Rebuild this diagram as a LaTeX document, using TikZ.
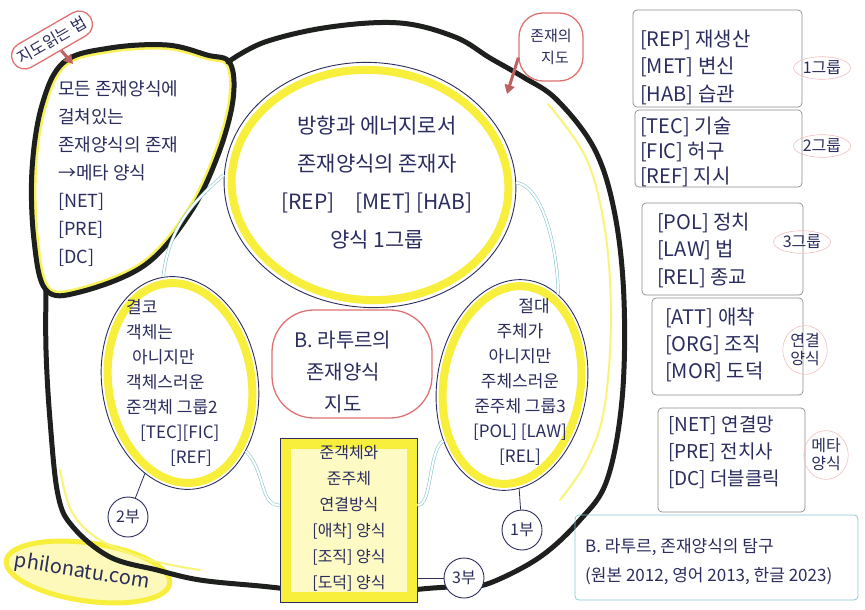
\documentclass[tikz,border=0pt]{standalone}
\usepackage{fontspec}
\setmainfont{Noto Sans CJK KR}
\usetikzlibrary{shapes.geometric,arrows.meta,calc}
\definecolor{ink}{HTML}{2B2D5E}
\definecolor{loopc}{HTML}{1D201D}
\definecolor{hl}{HTML}{F7EF3C}
\definecolor{redl}{HTML}{E07272}
\definecolor{cyanl}{HTML}{8CC8D2}
\definecolor{boxl}{HTML}{8C8C8C}
\newcommand{\fs}[2]{\fontsize{#1}{#2}\selectfont}
\begin{document}
\begin{tikzpicture}[x=1pt,y=-1pt,
  loopline/.style={draw=loopc, line width=5pt, line cap=round, line join=round},
  ellout/.style={ellipse, draw=ink, line width=0.9pt, inner sep=0pt},
  ellhl/.style={ellipse, draw=hl, line width=8pt, inner sep=0pt},
  txt/.style={text=ink, inner sep=0pt},
  redshape/.style={draw=redl, line width=1.3pt, text=ink},
  redarrow/.style={draw=redl!85!black, line width=3pt, -{Triangle[length=9pt,width=10pt]}},
  cyanlink/.style={draw=cyanl, line width=0.6pt, double=white, double distance=2pt},
  thinlink/.style={draw=ink, line width=0.8pt},
  partc/.style={circle, draw=ink, line width=0.9pt, fill=white, minimum size=40pt, inner sep=0pt, text=ink, font=\fs{16}{18}},
  pbox/.style={rectangle, draw=boxl, line width=0.7pt, rounded corners=4pt, inner sep=0pt},
  ptxt/.style={txt, anchor=west, align=left, font=\fs{20}{27.5}},
  glabel/.style={ellipse, draw=redl!45, line width=0.6pt, text=ink, inner sep=1pt, align=center, font=\fs{16}{18}},
]
\useasboundingbox (0,0) rectangle (865,610);
\fill[white] (0,0) rectangle (865,610);

% website highlight
\node[ellipse, fill=hl!35, draw=hl, line width=5pt, minimum width=165pt, minimum height=58pt, rotate=-8, inner sep=0pt] (hlw) at (88,572) {};
\node[txt, rotate=-9, font=\fs{20}{22}] (web) at (82,572) {philonatu.com};

% lobe inner highlight
\begin{scope}
\clip plot[smooth cycle, tension=0.6] coordinates {(230,63) (233,100) (218,155) (190,213) (145,265) (80,292) (46,290) (34,240) (32,170) (42,105) (64,62) (110,48) (167,45) (207,55)};
\draw[hl!85, line width=10pt] plot[smooth cycle, tension=0.6] coordinates {(230,63) (233,100) (218,155) (190,213) (145,265) (80,292) (46,290) (34,240) (32,170) (42,105) (64,62) (110,48) (167,45) (207,55)};
\end{scope}

% faint inner highlight of the big loop
\draw[hl!70, line width=2pt, line cap=round] plot[smooth, tension=0.6] coordinates {(548,104) (586,158) (605,230) (611,320) (604,410) (586,462) (560,500)};
\draw[hl!70, line width=2pt, line cap=round] plot[smooth, tension=0.6] coordinates {(60,470) (72,512) (100,540) (150,560) (200,570)};

% big loop
\draw[loopline] plot[smooth, tension=0.6] coordinates {(228,62) (265,42) (330,27) (400,23) (455,37) (490,58) (523,77) (557,100) (595,150) (615,215) (624,300) (622,400) (607,480) (580,520) (540,557) (490,583) (464,586) (433,588) (350,594) (260,586) (200,580) (157,570) (110,557) (73,527) (58,495) (50,420) (46,350) (46,290)};
% lobe
\draw[loopline] plot[smooth cycle, tension=0.6] coordinates {(230,63) (233,100) (218,155) (190,213) (145,265) (80,292) (46,290) (34,240) (32,170) (42,105) (64,62) (110,48) (167,45) (207,55)};
\node[txt, anchor=west, align=left, font=\fs{18}{28}] (lobet) at (58,174) {모든 존재양식에\\걸쳐있는\\존재양식의 존재\\→메타 양식\\{}[NET]\\{}[PRE]\\{}[DC]};

% red labels
\node[redshape, rectangle, rounded corners=13pt, rotate=30, inner sep=6pt, font=\fs{16}{18}] (lab1) at (52,40) {지도읽는 법};
\coordinate (tip1) at (73,64);
\draw[redarrow] (lab1) -- (tip1);
\node[redshape, rectangle, rounded corners=24pt, minimum width=64pt, minimum height=68pt, align=center, inner sep=2pt, font=\fs{15}{22}] (lab2) at (551,47) {존재의\\\hspace*{8pt}지도};
\coordinate (tip2) at (507,94);
\draw[redarrow] (lab2.198) -- (tip2);

% big ellipse
\node[ellhl, minimum width=277pt, minimum height=230pt, rotate=-4] (E1h) at (370,185) {};
\node[ellout, minimum width=292pt, minimum height=245pt, rotate=-4] (E1) at (370,185) {};
\node[txt, align=center, font=\fs{21}{38}] (E1t) at (377,183) {방향과 에너지로서\\존재양식의 존재자\\{}[REP]\quad[MET] [HAB]\\양식 1그룹};

% left ellipse
\node[ellhl, minimum width=143pt, minimum height=201pt, rotate=9] (E2h) at (180,383) {};
\node[ellout, minimum width=156pt, minimum height=214pt, rotate=9] (E2) at (180,383) {};
\node[txt, anchor=west, align=left, font=\fs{17}{25}] (E2t) at (126,383) {결코\\객체는\\\hspace*{6pt}아니지만\\객체스러운\\준객체 그룹2\\\hspace*{14pt}[TEC][FIC]\\\hspace*{44pt}[REF]};

% right ellipse
\node[ellhl, minimum width=137pt, minimum height=199pt, rotate=-9] (E3h) at (512,385) {};
\node[ellout, minimum width=150pt, minimum height=212pt, rotate=-9] (E3) at (512,385) {};
\node[txt, align=center, font=\fs{17}{25}] (E3t) at (520,382) {\hspace*{28pt}절대\\주체가\\아니지만\\주체스러운\\준주체 그룹3\\{}[POL] [LAW]\\{}[REL]};

% centre red blob
\node[redshape, rectangle, rounded corners=42pt, minimum width=160pt, minimum height=108pt] (B) at (352,364) {};
\node[txt, align=center, font=\fs{20}{32}] (Bt) at (343,372) {B. 라투르의\\존재양식\\지도};

% yellow box
\node[rectangle, fill=hl!30, draw=ink, line width=1pt, minimum width=137pt, minimum height=164pt, inner sep=0pt] (box) at (348.5,520) {};
\draw[hl, line width=10pt] ($(box.north west)+(6,6)$) rectangle ($(box.south east)+(-6,-6)$);
\node[txt, align=center, font=\fs{16}{26}] (boxt) at (349,518) {준객체와\\준주체\\연결방식\\{}[애착] 양식\\{}[조직] 양식\\{}[도덕] 양식};

% cyan links
\draw[cyanlink] (E1.180) .. controls +(-35,30) and +(5,-45) .. (E2.90);
\draw[cyanlink] (E1.5) .. controls +(30,5) and +(0,-35) .. (E3.72);
\draw[cyanlink] (E2.-55) .. controls +(20,20) and +(-20,0) .. (box.168);
\draw[cyanlink] (box.12) .. controls +(15,0) and +(-15,10) .. (E3.228);

% part circles
\node[partc] (p2) at (128,517) {2부};
\node[partc] (p1) at (522,530) {1부};
\node[partc] (p3) at (464,578) {3부};
\draw[thinlink] (p2) -- (E2);
\draw[thinlink] (p1) -- (E3);
\draw[thinlink] (p3.west) -- (p3.west -| box.east);

% right panel
\node[pbox, minimum width=169pt, minimum height=97pt] (b1) at (717.5,58.5) {};
\node[ptxt] (t1) at (640,67) {[REP] 재생산\\{}[MET] 변신\\{}[HAB] 습관};
\node[glabel] (g1) at (822,68) {1그룹};

\node[pbox, minimum width=167pt, minimum height=77pt] (b2) at (718.5,148.5) {};
\node[ptxt, font=\fs{20}{25}] (t2) at (640,152) {[TEC] 기술\\{}[FIC] 허구\\{}[REF] 지시};
\node[glabel] (g2) at (822,146) {2그룹};

\node[pbox, minimum width=161pt, minimum height=92pt] (b3) at (722.5,249) {};
\node[ptxt] (t3) at (657,250) {[POL] 정치\\{}[LAW] 법\\{}[REL] 종교};
\node[glabel] (g3) at (802,242) {3그룹};

\node[pbox, minimum width=151pt, minimum height=97pt] (b4) at (727.5,346.5) {};
\node[ptxt, font=\fs{20}{27}] (t4) at (665,345) {[ATT] 애착\\{}[ORG] 조직\\{}[MOR] 도덕};
\node[glabel] (g4) at (805,350) {연결\\양식};

\node[pbox, minimum width=147pt, minimum height=104pt] (b5) at (731.5,460) {};
\node[ptxt, font=\fs{19}{27}] (t5) at (668,452) {[NET] 연결망\\{}[PRE] 전치사\\{}[DC] 더블클릭};
\node[glabel] (g5) at (826,455) {메타\\양식};

% citation
\node[rectangle, draw=cyanl, line width=0.8pt, rounded corners=4pt, minimum width=283pt, minimum height=85pt, inner sep=0pt] (cit) at (716.5,557.5) {};
\node[txt, anchor=west, align=left, font=\fs{17}{29}] (citt) at (585,562) {B. 라투르, 존재양식의 탐구\\(원본 2012, 영어 2013, 한글 2023)};
\end{tikzpicture}
\end{document}
